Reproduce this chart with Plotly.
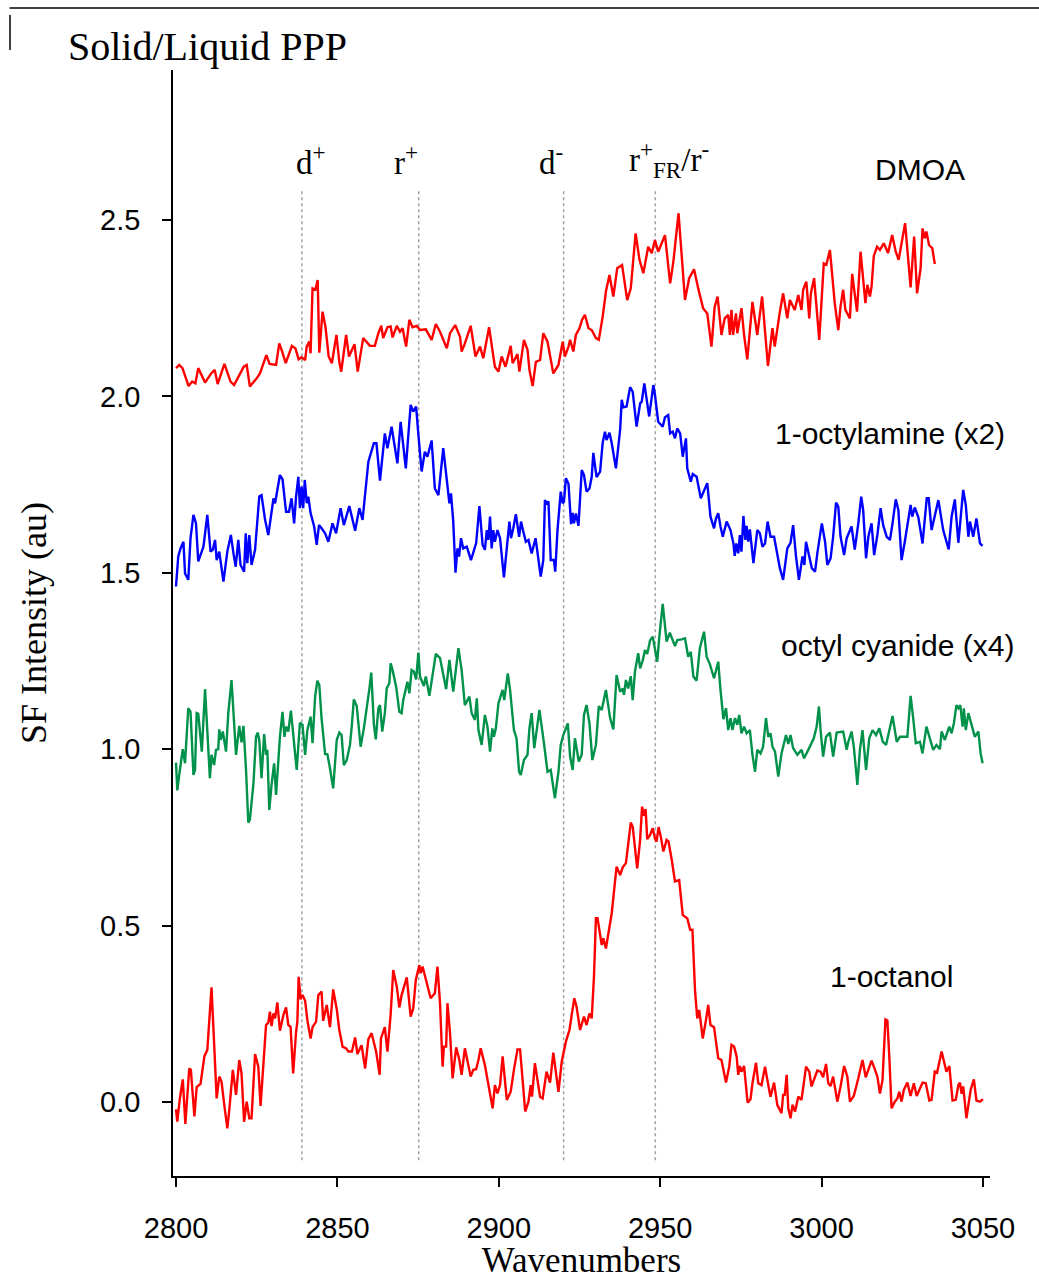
import plotly.graph_objects as go

# ---------------- data (wavenumber, SF intensity) ----------------
DMOA = [
(2800.0,2.080),(2801.0,2.089),(2802.0,2.080),(2803.9,2.029),(2805.0,2.042),(2806.0,2.037),(2806.9,2.080),(2809.0,2.039),(2810.9,2.065),(2812.0,2.075),
(2812.9,2.035),(2815.0,2.092),(2816.9,2.042),(2818.0,2.032),(2819.9,2.065),(2821.0,2.084),(2821.9,2.089),(2822.9,2.028),(2825.0,2.051),(2826.0,2.065),
(2828.0,2.117),(2829.0,2.092),(2831.0,2.089),(2832.0,2.150),(2832.9,2.127),(2834.0,2.094),(2835.9,2.143),(2837.0,2.136),(2838.0,2.105),(2838.9,2.111),
(2840.0,2.103),(2840.5,2.141),(2841.3,2.155),(2841.7,2.122),(2842.3,2.306),(2843.2,2.303),(2843.9,2.330),(2844.4,2.124),(2845.4,2.240),(2846.3,2.198),
(2847.3,2.113),(2848.3,2.094),(2849.7,2.174),(2850.6,2.098),(2851.2,2.070),(2852.7,2.174),(2853.6,2.113),(2854.6,2.136),(2855.3,2.148),(2856.3,2.070),
(2858.0,2.165),(2860.1,2.143),(2861.6,2.143),(2862.7,2.179),(2863.6,2.200),(2864.2,2.165),(2865.5,2.196),(2866.5,2.198),(2867.1,2.167),(2868.4,2.200),
(2869.4,2.183),(2870.2,2.193),(2871.3,2.141),(2872.3,2.217),(2873.3,2.196),(2874.6,2.200),(2875.6,2.188),(2877.4,2.190),(2879.2,2.160),(2880.5,2.205),
(2881.8,2.183),(2883.9,2.136),(2884.9,2.179),(2886.5,2.202),(2888.0,2.169),(2888.5,2.127),(2889.5,2.150),(2891.3,2.200),(2892.8,2.113),(2894.2,2.141),
(2895.2,2.108),(2897.0,2.196),(2898.8,2.084),(2899.9,2.070),(2900.9,2.113),(2902.1,2.084),(2903.7,2.143),(2904.3,2.094),(2905.8,2.120),(2906.4,2.070),
(2907.8,2.160),(2908.9,2.132),(2909.5,2.075),(2910.5,2.029),(2911.5,2.098),(2912.8,2.103),(2913.8,2.179),(2915.1,2.155),(2915.9,2.113),(2916.9,2.065),
(2918.5,2.089),(2919.8,2.155),(2920.5,2.113),(2921.6,2.141),(2922.1,2.160),(2923.1,2.127),(2923.9,2.174),(2925.0,2.193),(2925.8,2.217),(2926.7,2.231),
(2927.8,2.193),(2928.8,2.188),(2930.1,2.165),(2931.0,2.160),(2932.2,2.226),(2933.2,2.297),(2934.3,2.344),(2935.5,2.283),(2936.7,2.363),(2938.2,2.372),
(2939.8,2.273),(2940.9,2.306),(2942.4,2.462),(2943.6,2.387),(2944.8,2.349),(2946.3,2.424),(2947.4,2.406),(2948.4,2.443),(2949.4,2.410),(2951.5,2.457),
(2953.1,2.320),(2954.1,2.382),(2955.7,2.519),(2957.7,2.273),(2959.0,2.335),(2960.5,2.360),(2961.8,2.306),
(2963.3,2.250),(2964.6,2.235),(2965.9,2.141),(2966.9,2.254),(2967.8,2.283),(2969.0,2.174),(2970.0,2.221),(2971.1,2.231),(2971.6,2.174),(2972.1,2.245),
(2972.6,2.174),(2973.5,2.235),(2973.9,2.179),(2975.2,2.250),(2976.0,2.174),(2977.0,2.105),(2978.6,2.268),(2980.1,2.174),(2981.6,2.283),(2983.4,2.086),
(2984.2,2.150),(2984.8,2.193),(2985.5,2.141),(2986.3,2.193),(2987.1,2.240),(2988.1,2.292),(2989.4,2.221),(2990.2,2.273),(2991.7,2.245),(2992.8,2.287),
(2993.8,2.245),(2994.3,2.302),(2995.3,2.325),(2996.2,2.221),(2996.7,2.292),(2997.7,2.335),(2999.3,2.160),(3000.7,2.377),(3001.5,2.373),(3002.6,2.415),
(3004.1,2.264),(3005.2,2.188),(3005.9,2.256),(3006.7,2.302),(3007.4,2.245),(3008.8,2.221),(3009.5,2.347),(3011.0,2.240),(3012.1,2.410),(3013.6,2.264),
(3014.2,2.316),(3015.0,2.283),(3015.5,2.311),(3016.2,2.398),(3017.2,2.424),(3018.1,2.415),(3019.3,2.434),(3020.6,2.406),(3021.9,2.457),(3023.0,2.410),
(3023.9,2.387),(3025.9,2.491),(3027.6,2.309),(3028.7,2.453),(3029.6,2.292),(3030.7,2.363),(3031.3,2.476),(3032.0,2.448),(3032.5,2.467),(3033.3,2.429),
(3034.3,2.420),(3035.1,2.375),
]

OCTYLAMINE = [
(2800.0,1.461),(2800.7,1.546),(2801.4,1.569),(2802.3,1.588),(2802.8,1.498),(2803.8,1.480),(2804.5,1.598),(2805.4,1.664),(2806.2,1.640),(2806.9,1.532),
(2808.5,1.574),(2809.7,1.664),(2810.7,1.560),(2811.4,1.565),(2812.1,1.593),(2812.6,1.536),(2813.4,1.560),(2814.7,1.475),(2815.9,1.560),(2817.0,1.607),
(2817.8,1.555),(2818.5,1.517),(2819.3,1.593),(2820.0,1.522),(2821.1,1.503),(2821.6,1.612),(2822.1,1.527),(2822.7,1.607),(2823.4,1.522),(2824.5,1.565),
(2825.8,1.716),(2826.5,1.720),(2827.6,1.650),(2828.6,1.607),(2830.2,1.711),(2830.7,1.697),(2832.2,1.777),(2833.0,1.765),(2834.1,1.673),(2835.0,1.673),
(2835.8,1.711),(2836.6,1.640),(2837.2,1.716),(2837.9,1.772),(2838.4,1.683),(2838.9,1.744),(2839.4,1.683),(2839.9,1.763),(2840.5,1.697),(2841.0,1.716),
(2841.7,1.669),(2842.8,1.631),(2843.6,1.579),(2844.3,1.635),(2845.1,1.626),(2846.2,1.612),(2847.2,1.588),(2848.5,1.640),(2849.6,1.612),(2851.0,1.683),
(2852.0,1.635),(2853.7,1.689),(2855.5,1.619),(2856.8,1.683),(2857.8,1.650),(2859.6,1.815),(2861.3,1.867),(2862.1,1.867),(2863.2,1.761),(2864.7,1.895),
(2865.5,1.853),(2866.8,1.914),(2868.6,1.810),(2869.6,1.928),(2871.2,1.796),(2872.7,1.976),(2873.5,1.957),(2874.4,1.971),(2875.1,1.891),(2876.1,1.787),
(2877.1,1.843),(2877.9,1.829),(2879.2,1.875),(2880.2,1.739),(2881.3,1.720),(2882.3,1.820),
(2882.8,1.853),(2883.9,1.763),(2884.7,1.697),(2885.2,1.725),(2885.9,1.645),(2886.6,1.500),(2887.2,1.569),(2887.7,1.546),(2888.3,1.598),(2889.0,1.569),
(2890.1,1.574),(2891.4,1.536),(2893.0,1.584),(2894.0,1.689),(2895.0,1.579),(2895.7,1.565),(2896.3,1.621),(2896.8,1.593),(2897.3,1.659),(2897.8,1.569),
(2898.3,1.621),(2898.8,1.588),(2899.6,1.621),(2900.4,1.598),(2901.6,1.487),(2903.3,1.645),(2903.8,1.598),(2904.5,1.626),(2905.3,1.666),(2906.3,1.602),
(2906.9,1.645),(2907.6,1.617),(2908.4,1.588),(2909.2,1.593),(2910.2,1.555),(2911.4,1.598),(2913.0,1.489),(2913.8,1.536),(2914.3,1.706),(2914.8,1.697),
(2915.4,1.702),(2916.1,1.536),(2917.1,1.536),(2917.5,1.503),(2918.2,1.621),(2919.2,1.730),(2919.8,1.697),(2920.2,1.702),(2920.8,1.768),(2921.6,1.752),
(2922.4,1.638),(2922.9,1.670),(2923.3,1.640),(2923.9,1.668),(2924.7,1.633),(2925.7,1.791),(2926.4,1.777),(2927.2,1.730),(2928.1,1.739),(2928.8,1.772),
(2929.3,1.840),(2930.3,1.771),(2931.4,1.787),(2932.2,1.869),(2932.9,1.900),(2933.4,1.876),(2934.3,1.897),(2935.0,1.867),(2936.3,1.796),(2937.6,1.905),
(2938.1,1.990),(2938.6,1.969),(2939.6,1.971),(2940.7,2.026),(2941.5,2.013),(2942.7,1.914),(2943.8,1.980),(2944.3,1.985),(2945.1,2.037),(2946.6,1.943),
(2947.9,2.032),(2948.4,2.004),(2949.4,1.928),(2950.8,1.914),(2951.5,1.941),(2952.5,1.947),(2953.1,1.895),(2953.9,1.900),(2954.6,1.881),(2955.3,1.909),
(2956.2,1.895),(2957.0,1.829),(2958.0,1.881),(2958.4,1.796),(2959.5,1.758),(2960.1,1.780),(2961.3,1.772),(2962.6,1.711),
(2964.6,1.754),(2965.6,1.659),(2966.7,1.626),(2967.3,1.654),(2968.0,1.669),(2968.7,1.631),(2969.4,1.602),(2970.6,1.645),(2971.8,1.621),(2972.7,1.583),
(2973.1,1.548),(2973.6,1.583),(2974.2,1.555),(2974.7,1.607),(2975.2,1.560),(2975.8,1.661),(2976.4,1.593),(2976.8,1.633),(2977.3,1.588),(2977.8,1.623),
(2978.9,1.527),(2980.1,1.621),(2980.9,1.612),(2981.7,1.574),(2982.5,1.583),(2983.3,1.645),(2984.2,1.602),(2985.3,1.602),(2987.1,1.513),(2988.1,1.480),
(2989.4,1.569),(2990.4,1.585),(2991.2,1.635),(2992.1,1.546),(2993.0,1.480),(2994.1,1.546),(2994.7,1.522),(2995.2,1.588),(2995.9,1.555),(2997.0,1.513),
(2998.0,1.503),(2998.7,1.555),(3000.1,1.640),(3001.1,1.588),(3001.8,1.522),(3002.8,1.541),(3003.6,1.602),(3004.5,1.699),(3005.2,1.687),(3005.9,1.602),
(3007.0,1.550),(3007.8,1.598),(3009.3,1.631),(3010.3,1.566),(3011.4,1.640),(3012.3,1.716),(3012.9,1.678),(3013.8,1.541),(3014.5,1.602),(3015.5,1.640),
(3016.3,1.550),(3017.3,1.607),(3018.3,1.683),(3019.1,1.635),(3020.2,1.602),(3021.2,1.593),(3022.0,1.640),(3023.0,1.708),(3023.8,1.678),(3024.8,1.536),
(3025.8,1.588),(3026.9,1.654),(3027.6,1.692),(3028.1,1.659),(3028.9,1.685),(3030.0,1.657),(3031.3,1.583),(3032.6,1.711),(3033.2,1.711),(3034.1,1.621),
(3035.1,1.659),(3036.2,1.706),(3037.7,1.621),(3039.4,1.566),(3040.3,1.659),(3041.3,1.708),(3042.4,1.585),(3043.9,1.735),(3044.7,1.692),(3045.5,1.602),
(3046.0,1.645),(3047.0,1.602),(3048.0,1.654),(3049.1,1.583),(3049.9,1.576),
]

OCTYL_CYANIDE = [
(2800.0,0.962),(2800.4,0.883),(2801.2,0.941),(2802.1,1.000),(2802.8,0.960),(2803.8,1.116),(2804.5,1.106),(2805.4,0.927),(2805.9,0.941),(2806.4,1.102),
(2806.9,1.100),(2808.0,0.993),(2809.0,1.170),(2809.7,1.045),(2810.5,0.918),(2811.0,0.984),(2811.8,0.955),(2812.4,0.998),(2813.1,1.000),(2813.4,1.056),
(2813.8,1.026),(2814.5,1.050),(2815.5,0.993),(2816.2,1.102),(2817.2,1.196),(2818.6,0.984),(2819.6,1.066),(2820.3,1.019),(2820.9,1.066),(2821.7,0.941),
(2822.4,0.792),(2822.9,0.800),(2824.0,0.903),(2824.8,1.035),(2825.3,1.047),(2825.8,1.026),(2826.5,0.918),(2827.3,1.043),(2827.9,0.984),(2828.3,0.998),
(2828.9,0.828),(2829.6,0.899),(2830.4,0.960),(2831.0,0.870),(2832.2,1.035),(2833.0,1.106),(2833.6,1.035),(2834.1,1.064),(2834.8,1.050),(2835.6,1.109),
(2836.6,1.026),(2837.4,0.941),(2838.4,1.075),(2839.2,1.069),(2840.0,0.984),(2840.7,1.054),(2841.7,1.092),(2842.3,1.017),(2843.1,1.149),(2843.8,1.194),
(2844.4,1.182),(2845.1,1.087),(2846.2,0.986),(2846.9,0.986),(2847.7,0.946),(2848.7,0.889),(2849.8,1.026),(2850.6,1.047),(2851.3,1.040),(2852.0,0.955),
(2852.9,0.969),(2853.9,1.012),(2854.4,1.059),(2855.1,1.141),(2856.0,1.122),(2857.2,1.007),(2858.2,1.059),(2859.3,1.125),(2859.9,1.170),(2860.5,1.217),
(2861.3,1.071),(2861.9,1.028),(2862.7,1.116),(2863.2,1.125),(2863.9,1.050),(2864.7,1.102),(2865.3,1.173),(2866.1,1.187),(2866.5,1.243),(2867.1,1.224),
(2868.2,1.177),(2869.2,1.106),(2869.9,1.102),(2870.4,1.139),(2871.2,1.168),(2871.7,1.191),(2872.3,1.158),(2873.0,1.224),(2873.7,1.220),(2874.4,1.198),
(2875.1,1.274),(2875.6,1.206),(2876.8,1.179),(2877.4,1.206),(2878.5,1.151),(2879.7,1.229),(2880.5,1.270),
(2881.8,1.258),(2882.8,1.210),(2883.7,1.170),(2884.7,1.253),(2885.9,1.163),(2887.5,1.286),(2888.5,1.224),(2889.5,1.125),(2890.9,1.149),(2891.6,1.102),
(2892.6,1.083),(2893.2,1.144),(2893.7,1.054),(2894.7,1.012),(2895.7,1.097),(2896.5,1.064),(2897.3,0.993),(2898.0,1.059),(2898.5,1.035),(2899.1,1.059),
(2899.9,1.130),(2901.2,1.168),(2901.7,1.139),(2902.8,1.215),(2903.5,1.168),(2904.7,1.054),(2905.5,1.031),(2906.3,0.936),(2906.8,0.927),(2907.8,0.969),
(2908.9,0.984),(2909.5,1.059),(2910.2,1.102),(2911.0,1.003),(2912.6,1.111),(2914.0,1.017),(2915.1,0.936),(2916.1,0.941),(2917.4,0.861),(2918.5,0.936),
(2919.2,1.012),(2920.0,1.040),(2921.4,1.073),(2922.1,0.979),(2922.9,0.941),(2923.6,1.031),(2924.8,0.965),(2925.7,0.984),(2926.4,1.097),(2927.2,1.125),
(2928.1,1.073),(2929.0,0.969),(2930.1,1.012),(2931.0,1.122),(2931.9,1.111),(2933.2,1.168),(2934.5,1.088),(2935.5,1.056),(2936.5,1.210),(2937.6,1.163),
(2938.4,1.172),(2938.8,1.154),(2939.4,1.196),(2940.1,1.172),(2940.9,1.207),(2941.5,1.139),(2942.2,1.220),(2943.2,1.272),(2943.8,1.229),(2944.6,1.251),
(2945.3,1.281),(2946.0,1.270),(2946.9,1.309),(2947.7,1.319),(2948.4,1.281),(2949.1,1.248),(2949.7,1.314),(2950.8,1.412),(2952.0,1.305),(2953.0,1.330),
(2954.6,1.292),(2955.3,1.309),(2956.7,1.311),(2957.7,1.314),(2958.7,1.262),(2959.5,1.276),(2960.3,1.206),(2961.3,1.194),(2962.3,1.286),
(2963.6,1.333),(2964.4,1.262),(2965.4,1.241),(2966.7,1.201),(2968.0,1.248),(2968.7,1.168),(2969.6,1.085),(2970.4,1.116),(2971.1,1.054),(2971.8,1.088),
(2972.4,1.054),(2973.2,1.088),(2973.9,1.069),(2974.5,1.097),(2975.2,1.045),(2976.0,1.064),(2976.8,1.045),(2977.8,1.054),(2978.6,0.984),(2979.4,0.936),
(2980.1,0.998),(2981.1,0.988),(2981.9,1.007),(2982.8,1.088),(2983.5,1.035),(2984.2,1.045),(2984.8,1.007),(2985.6,0.993),(2986.6,0.922),(2987.6,0.988),
(2989.0,1.040),(2989.7,1.015),(2990.4,1.040),(2991.2,1.003),(2992.5,0.984),(2993.8,0.998),(2994.6,0.974),(2995.9,0.998),(2996.9,1.017),(2997.6,1.031),
(2998.5,1.064),(2999.2,1.121),(2999.7,1.054),(3000.5,0.979),(3001.4,1.035),(3002.6,1.047),(3003.6,0.979),(3004.7,1.047),(3006.7,1.050),(3007.8,0.998),
(3008.3,1.021),(3009.3,1.050),(3010.0,1.007),(3011.1,0.899),(3011.9,0.998),(3012.7,1.054),(3013.8,0.941),(3014.8,1.031),(3015.8,1.054),(3016.9,1.040),
(3017.9,1.059),(3019.0,1.021),(3020.0,1.012),(3021.2,1.064),(3022.0,1.094),(3023.3,1.021),(3024.3,1.035),(3026.6,1.035),(3027.6,1.151),(3028.4,1.088),
(3029.2,1.017),(3030.5,1.021),(3031.3,0.988),(3032.5,1.064),(3033.6,1.026),(3034.6,0.998),(3035.6,1.012),(3036.7,1.000),(3037.2,1.050),(3038.2,1.026),
(3039.6,1.064),(3040.3,1.045),(3041.0,1.073),(3041.8,1.125),(3042.4,1.116),(3043.0,1.125),(3043.7,1.064),(3044.1,1.116),(3044.7,1.054),(3045.5,1.102),
(3046.5,1.069),(3047.5,1.035),(3048.6,1.050),(3049.3,0.988),(3049.9,0.960),
]

OCTANOL = [
(2800.0,-0.021),(2800.4,-0.056),(2801.2,0.010),(2802.1,0.064),(2802.9,-0.062),(2803.5,0.034),(2804.1,0.095),(2804.6,0.091),(2805.7,-0.041),(2806.4,0.042),
(2807.6,0.051),(2808.8,0.130),(2809.7,0.147),(2811.0,0.325),(2812.6,0.010),(2813.4,0.072),(2814.1,0.058),(2814.9,-0.004),(2815.9,-0.075),(2816.5,-0.023),
(2817.6,0.091),(2818.6,0.020),(2819.6,0.119),(2820.3,0.081),(2821.1,-0.056),(2821.9,0.001),(2822.7,-0.046),(2823.4,-0.046),(2824.5,0.136),(2825.5,0.100),
(2826.2,-0.011),(2827.1,0.110),(2827.9,0.218),(2828.6,0.225),(2829.1,0.256),(2829.6,0.215),(2830.2,0.251),(2830.7,0.237),(2831.4,0.282),(2832.2,0.202),
(2833.3,0.247),(2834.1,0.268),(2834.8,0.218),(2835.5,0.213),(2836.3,0.081),(2837.2,0.199),(2837.6,0.228),(2838.0,0.355),(2838.6,0.291),(2839.2,0.303),
(2840.0,0.287),(2840.7,0.232),(2841.7,0.180),(2842.3,0.212),(2843.4,0.228),(2844.1,0.303),(2845.1,0.313),(2845.6,0.230),(2846.7,0.275),(2847.7,0.212),
(2848.7,0.319),(2849.8,0.263),(2850.6,0.204),(2851.6,0.157),(2852.7,0.152),(2853.4,0.143),(2854.5,0.143),(2855.5,0.183),(2856.2,0.136),(2857.5,0.161),
(2858.6,0.095),(2859.6,0.178),(2860.6,0.195),(2862.0,0.143),(2863.1,0.077),(2863.5,0.180),(2864.7,0.212),(2865.5,0.143),(2866.5,0.247),(2867.3,0.374),
(2868.4,0.327),(2869.2,0.268),(2869.9,0.303),(2871.5,0.353),(2872.7,0.242),(2873.5,0.265),(2874.3,0.346),(2875.4,0.388),(2875.8,0.365),(2876.4,0.384),
(2877.4,0.351),(2878.9,0.294),(2880.2,0.308),(2881.0,0.384),
(2881.8,0.280),(2882.6,0.100),(2883.0,0.157),(2883.7,0.157),(2884.1,0.280),(2884.9,0.195),(2885.7,0.067),(2886.8,0.155),(2887.8,0.119),(2888.5,0.077),
(2889.5,0.152),(2891.3,0.072),(2892.1,0.091),(2893.0,0.093),(2893.7,0.119),(2894.4,0.152),(2895.7,0.105),(2897.1,0.034),(2898.1,-0.018),(2898.8,0.048),
(2899.6,0.024),(2900.4,0.048),(2901.2,0.129),(2902.5,0.006),(2903.7,0.029),(2904.7,0.091),(2905.8,0.149),(2906.6,0.149),(2907.6,0.053),(2908.2,-0.027),
(2909.2,0.001),(2909.9,0.048),(2910.3,0.015),(2911.2,0.110),(2912.8,0.015),(2913.6,0.010),(2914.8,0.086),(2915.9,0.055),(2916.9,0.140),(2918.5,0.029),
(2919.5,0.114),(2920.8,0.171),(2921.9,0.204),(2923.4,0.294),(2924.1,0.270),(2925.2,0.204),(2926.4,0.242),(2927.2,0.218),(2928.1,0.251),(2928.8,0.237),
(2929.5,0.355),(2930.1,0.521),(2930.6,0.521),(2931.9,0.445),(2932.4,0.464),(2933.2,0.435),(2935.0,0.535),(2936.5,0.667),(2937.6,0.643),(2938.4,0.665),
(2939.4,0.677),(2940.1,0.733),(2940.9,0.792),(2941.5,0.780),(2942.9,0.662),(2943.8,0.743),(2944.4,0.837),(2945.0,0.811),(2945.5,0.830),(2946.0,0.745),
(2946.9,0.757),(2947.7,0.776),(2948.4,0.747),(2948.9,0.738),(2949.5,0.779),(2950.2,0.752),(2951.0,0.710),(2952.0,0.743),(2952.6,0.738),(2953.6,0.686),
(2954.6,0.625),(2955.9,0.629),(2957.0,0.530),(2957.7,0.525),(2958.4,0.521),(2959.3,0.488),(2960.0,0.488),(2960.8,0.317),(2961.5,0.237),(2962.1,0.261),
(2963.2,0.180),(2964.2,0.232),(2964.9,0.275),(2965.6,0.218),(2966.7,0.212),(2968.0,0.124),(2969.0,0.119),(2970.4,0.055),(2971.4,0.100),(2972.1,0.162),
(2972.9,0.157),(2973.7,0.129),(2974.2,0.077),(2974.7,0.102),(2975.2,0.086),(2976.0,0.102),(2977.1,-0.002),(2978.0,0.008),(2978.6,0.053),(2979.7,0.111),
(2980.4,0.053),(2981.4,0.048),(2982.5,0.100),(2983.5,0.048),(2984.2,0.015),(2985.3,0.055),(2986.3,-0.008),(2987.6,-0.032),(2988.1,0.020),(2988.6,0.020),
(2989.2,0.077),(2989.7,-0.018),(2990.4,-0.046),(2991.0,-0.008),(2991.8,-0.027),(2992.8,0.015),(2993.8,0.006),(2995.2,0.100),(2996.2,0.086),(2996.9,0.044),
(2998.0,0.074),(2998.7,0.089),(2999.7,0.086),(3000.5,0.070),(3001.4,0.108),(3002.1,0.053),(3002.8,0.045),(3003.6,0.072),(3004.9,0.001),(3005.9,0.044),
(3007.0,0.102),(3008.0,0.072),(3008.8,0.001),(3010.0,0.017),(3011.4,0.067),(3012.7,0.119),(3013.7,0.070),(3014.5,0.093),(3015.5,0.117),(3016.5,0.093),
(3017.3,0.072),(3018.1,0.024),(3018.9,0.062),(3019.8,0.234),(3020.4,0.231),(3021.0,0.129),(3021.7,-0.018),(3022.7,0.001),(3023.5,0.010),(3024.1,0.029),
(3024.8,0.001),(3025.5,0.034),(3026.6,0.055),(3027.6,0.017),(3028.6,0.053),(3029.5,0.017),(3030.5,0.036),(3031.3,0.055),(3032.3,0.053),(3033.4,0.004),
(3034.1,0.006),(3035.1,0.086),(3035.8,0.083),(3037.2,0.143),(3038.7,0.086),(3039.6,0.102),(3040.6,0.004),(3041.6,0.006),(3042.4,0.048),(3042.9,0.055),
(3043.4,0.023),(3043.9,0.044),(3044.9,-0.046),(3046.2,0.034),(3047.2,0.064),(3048.0,0.004),(3049.1,0.001),(3050.0,0.008),
]

SERIES_NAMES = ["DMOA", "1-octylamine (x2)", "octyl cyanide (x4)", "1-octanol"]
SERIES_DATA = [DMOA, OCTYLAMINE, OCTYL_CYANIDE, OCTANOL]
SERIES_COLORS = ["#ff0000", "#0000ff", "#00924a", "#ff0000"]
# label anchor positions for series names (data coords)
NAME_X = [3030.5, 3021.2, 3023.4, 3021.8]
NAME_Y = [2.642, 1.896, 1.295, 0.357]

MODE_X = [2839.0, 2875.2, 2920.1, 2948.5]
MODE_LABELS = ["d<sup>+</sup>", "r<sup>+</sup>", "d<sup>-</sup>", "r<sup>+</sup><sub>FR</sub>/r<sup>-</sup>"]
MODE_SHIFT = [9, -13, -13, 14]

X_TICKS = [2800, 2850, 2900, 2950, 3000, 3050]
Y_TICKS = [0.0, 0.5, 1.0, 1.5, 2.0, 2.5]
Y_TICK_TEXT = ["0.0", "0.5", "1.0", "1.5", "2.0", "2.5"]

SERIF = "Liberation Serif, Times New Roman, serif"
SANS = "Liberation Sans, Arial, sans-serif"

fig = go.Figure()

# vertical dotted mode lines
for mx in MODE_X:
    fig.add_shape(type="line", xref="x", yref="y", x0=mx, x1=mx, y0=-0.165, y1=2.585,
                  line=dict(color="#a0a0a0", width=1.5, dash="dot"), layer="below")

for name, data, color in zip(SERIES_NAMES, SERIES_DATA, SERIES_COLORS):
    xs = [p[0] for p in data]
    ys = [p[1] for p in data]
    fig.add_trace(go.Scatter(x=xs, y=ys, mode="lines", name=name,
                             line=dict(color=color, width=2.4), showlegend=False))

for name, nx, ny in zip(SERIES_NAMES, NAME_X, NAME_Y):
    fig.add_annotation(x=nx, y=ny, xref="x", yref="y", text=name, showarrow=False,
                       xanchor="center", yanchor="middle",
                       font=dict(family=SANS, size=30, color="black"))

for mx, lab, sh in zip(MODE_X, MODE_LABELS, MODE_SHIFT):
    fig.add_annotation(x=mx, y=2.67, xref="x", yref="y", text=lab, showarrow=False,
                       xanchor="center", yanchor="middle", xshift=sh,
                       font=dict(family=SERIF, size=33, color="black"))

# title
fig.add_annotation(x=-0.131, y=1.0208, xref="paper", yref="paper", text="Solid/Liquid PPP",
                   showarrow=False, xanchor="left", yanchor="middle",
                   font=dict(family=SERIF, size=40, color="black"))

# frame artifacts (top rule and small left tick)
fig.add_shape(type="line", xref="paper", yref="paper", x0=-0.2, x1=1.06, y0=1.0561, y1=1.0561,
              line=dict(color="black", width=1.5))
fig.add_shape(type="line", xref="paper", yref="paper", x0=-0.1995, x1=-0.1995, y0=1.0181, y1=1.0497,
              line=dict(color="black", width=1.5))

fig.update_layout(
    width=1039, height=1280,
    margin=dict(l=173, r=49, t=70, b=104),
    paper_bgcolor="white", plot_bgcolor="white",
    xaxis=dict(range=[2799.07, 3052.2], tickvals=X_TICKS, ticks="outside", ticklen=9, tickwidth=1.5,
               tickcolor="black", showline=True, linecolor="black", linewidth=1.5, showgrid=False,
               zeroline=False, automargin=False, ticklabelstandoff=16,
               tickfont=dict(family=SANS, size=29, color="black"),
               title=dict(text="Wavenumbers", font=dict(family=SERIF, size=35, color="black"), standoff=5)),
    yaxis=dict(range=[-0.2098, 2.925], tickvals=Y_TICKS, ticktext=Y_TICK_TEXT, ticks="outside", ticklen=9,
               tickwidth=1.5, tickcolor="black", showline=True, linecolor="black", linewidth=1.5,
               showgrid=False, zeroline=False, automargin=False, ticklabelstandoff=16,
               tickfont=dict(family=SANS, size=29, color="black"),
               title=dict(text="SF Intensity (au)", font=dict(family=SERIF, size=36, color="black"), standoff=43)),
)

fig.write_html("out.html")
